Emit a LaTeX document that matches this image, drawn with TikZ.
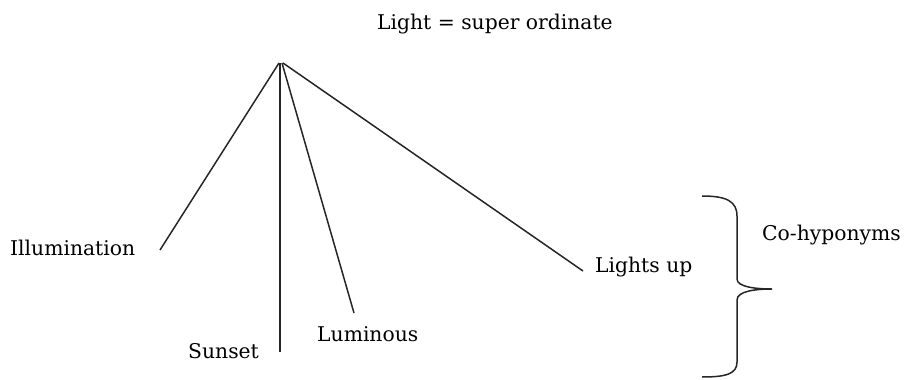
\documentclass[tikz,border=0pt]{standalone}
\usepackage{fontspec}
\setmainfont{DejaVu Serif}
\begin{document}
\begin{tikzpicture}[x=1pt,y=-1pt,
  lbl/.style={anchor=base west,inner sep=0pt,font=\fontsize{20.3}{23}\selectfont},
  ln/.style={line width=1.5pt,black!85}]
\useasboundingbox (0,0) rectangle (908,380);
\node[lbl] (title) at (377,29) {Light = super ordinate};
\node[lbl] (ill) at (10,255) {Illumination};
\node[lbl] (sun) at (188,358) {Sunset};
\node[lbl] (lum) at (317,341) {Luminous};
\node[lbl] (lup) at (595,272) {Lights up};
\node[lbl] (coh) at (762,240) {Co-hyponyms};
\coordinate (apex) at (280,63);
\coordinate (eIll) at (160,250);
\coordinate (eSun) at (280,352);
\coordinate (eLum) at (354,313);
\coordinate (eLup) at (583,271);
\draw[ln] ([xshift=-1pt]apex) -- (eIll);
\draw[ln] (apex) -- (eSun);
\draw[ln] ([xshift=2pt]apex) -- (eLum);
\draw[ln] ([xshift=3pt]apex) -- (eLup);
\draw[ln] (702,196) .. controls (726,196) and (737,201) .. (737,216)
  -- (737,279) .. controls (737,287) and (756,289) .. (772,289)
  .. controls (756,289) and (737,291) .. (737,300)
  -- (737,362) .. controls (737,374) and (726,377) .. (702,377);
\end{tikzpicture}
\end{document}
